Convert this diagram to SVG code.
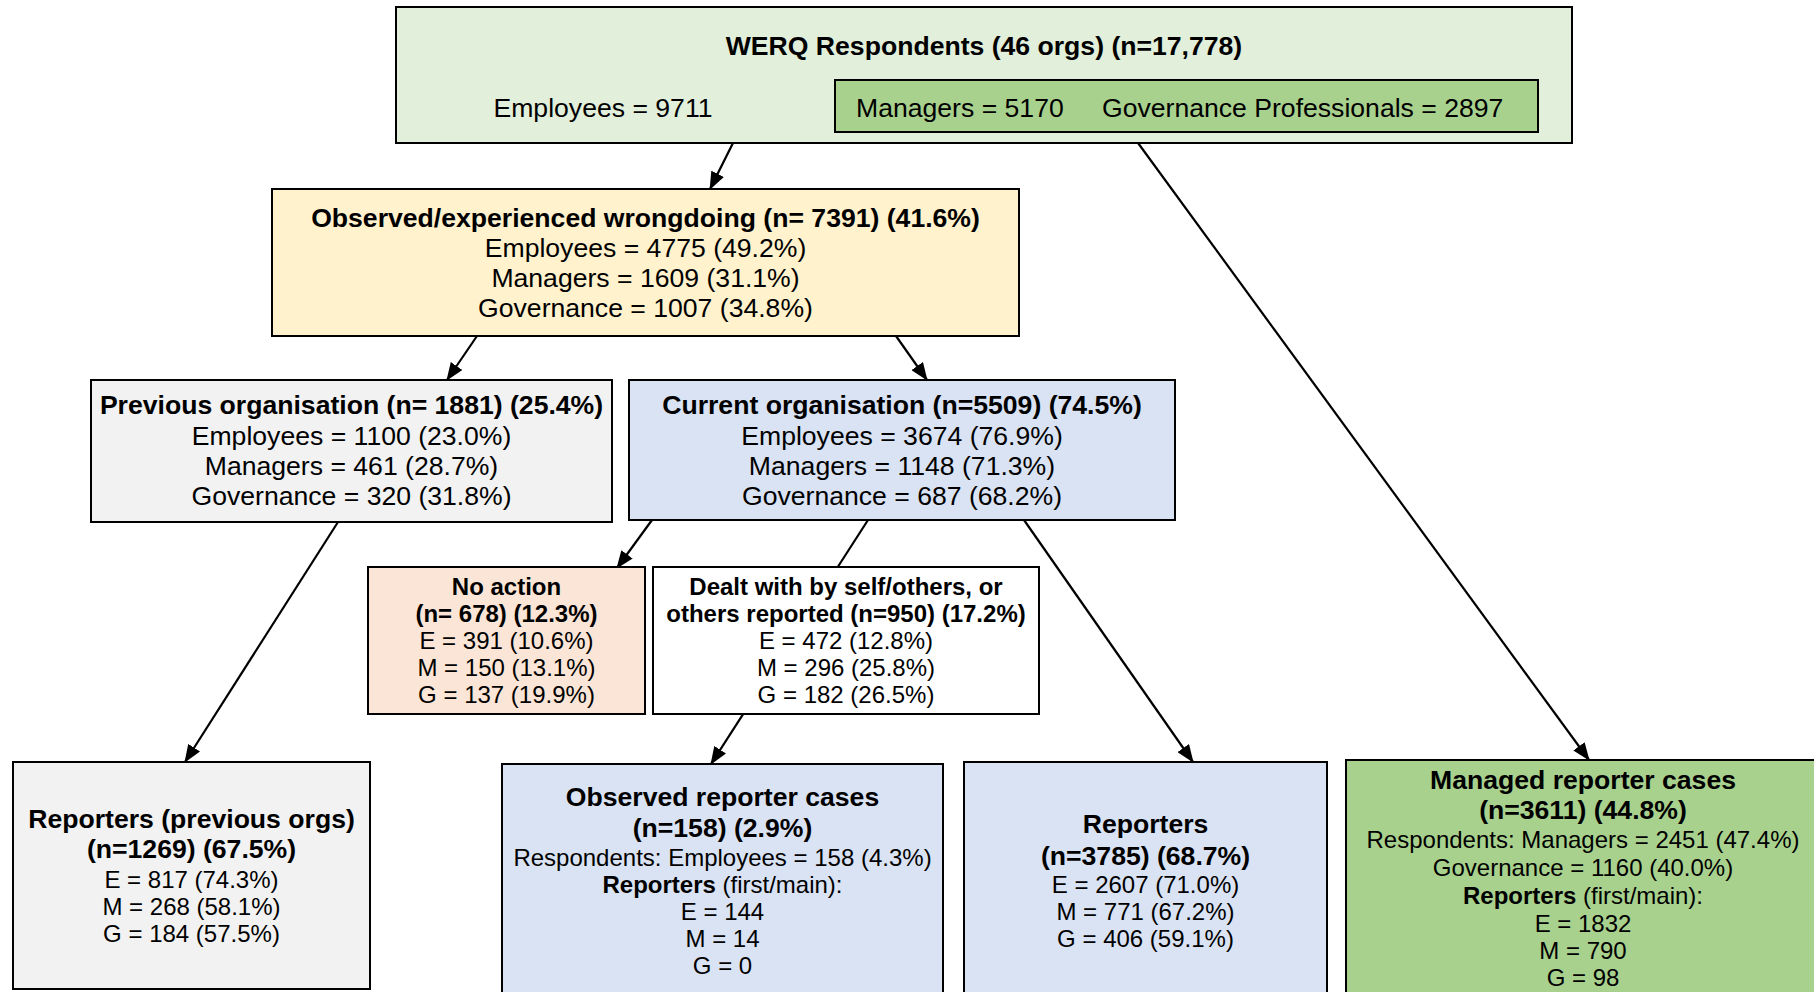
<svg xmlns="http://www.w3.org/2000/svg" width="1814" height="992" viewBox="0 0 1814 992">
<defs>
<marker id="ah" markerUnits="userSpaceOnUse" markerWidth="18" markerHeight="14" refX="17" refY="7" orient="auto">
<path d="M0,0 L18,7 L0,14 Z" fill="#000"/>
</marker>
<style>
.box{stroke:#000;stroke-width:2}
.t{font-family:"Liberation Sans",Arial,sans-serif;fill:#000;text-anchor:middle}
.b{font-weight:bold}
.f26{font-size:26.6px}
.f24{font-size:24px}
.c{stroke:#000;stroke-width:2.2;fill:none;marker-end:url(#ah)}
</style>
</defs>
<rect width="1814" height="992" fill="#fff"/>
<g id="connectors">
<line class="c" x1="733" y1="143" x2="710" y2="189"/>
<line class="c" x1="1130" y1="132" x2="1589" y2="760"/>
<line class="c" x1="477" y1="336" x2="447" y2="380"/>
<line class="c" x1="896" y1="336" x2="927" y2="380"/>
<line class="c" x1="338" y1="522" x2="185" y2="762"/>
<line class="c" x1="652" y1="520" x2="617" y2="568"/>
<line class="c" x1="868" y1="520" x2="711" y2="764"/>
<line class="c" x1="1024" y1="520" x2="1193" y2="762"/>
</g>
<g id="n-top">
<rect class="box" x="396" y="7" width="1176" height="136" fill="#E2EFDA"/>
<text class="t b f26" x="984" y="55">WERQ Respondents (46 orgs) (n=17,778)</text>
<text class="t f26" x="603" y="117">Employees = 9711</text>
</g>
<g id="n-mgr-gov">
<rect class="box" x="835" y="80" width="703" height="52" fill="#A9D18E"/>
<text class="t f26" x="856" y="117" style="text-anchor:start">Managers = 5170</text>
<text class="t f26" x="1102" y="117" style="text-anchor:start">Governance Professionals = 2897</text>
</g>
<g id="n-observed">
<rect class="box" x="272" y="189" width="747" height="147" fill="#FFF2CC"/>
<text class="t b f26" x="645.5" y="227">Observed/experienced wrongdoing (n= 7391) (41.6%)</text>
<text class="t f26" x="645.5" y="257">Employees = 4775 (49.2%)</text>
<text class="t f26" x="645.5" y="287">Managers = 1609 (31.1%)</text>
<text class="t f26" x="645.5" y="317">Governance = 1007 (34.8%)</text>
</g>
<g id="n-previous">
<rect class="box" x="91" y="380" width="521" height="142" fill="#F2F2F2"/>
<text class="t b f26" x="351.5" y="414">Previous organisation (n= 1881) (25.4%)</text>
<text class="t f26" x="351.5" y="445">Employees = 1100 (23.0%)</text>
<text class="t f26" x="351.5" y="475">Managers = 461 (28.7%)</text>
<text class="t f26" x="351.5" y="505">Governance = 320 (31.8%)</text>
</g>
<g id="n-current">
<rect class="box" x="629" y="380" width="546" height="140" fill="#DAE3F3"/>
<text class="t b f26" x="902" y="414">Current organisation (n=5509) (74.5%)</text>
<text class="t f26" x="902" y="445">Employees = 3674 (76.9%)</text>
<text class="t f26" x="902" y="475">Managers = 1148 (71.3%)</text>
<text class="t f26" x="902" y="505">Governance = 687 (68.2%)</text>
</g>
<g id="n-noaction">
<rect class="box" x="368" y="567" width="277" height="147" fill="#FBE5D6"/>
<text class="t b f24" x="506.5" y="595">No action</text>
<text class="t b f24" x="506.5" y="622">(n= 678) (12.3%)</text>
<text class="t f24" x="506.5" y="649">E = 391 (10.6%)</text>
<text class="t f24" x="506.5" y="676">M = 150 (13.1%)</text>
<text class="t f24" x="506.5" y="703">G = 137 (19.9%)</text>
</g>
<g id="n-dealt">
<rect class="box" x="653" y="567" width="386" height="147" fill="#FFFFFF"/>
<text class="t b f24" x="846" y="595">Dealt with by self/others, or</text>
<text class="t b f24" x="846" y="622">others reported (n=950) (17.2%)</text>
<text class="t f24" x="846" y="649">E = 472 (12.8%)</text>
<text class="t f24" x="846" y="676">M = 296 (25.8%)</text>
<text class="t f24" x="846" y="703">G = 182 (26.5%)</text>
</g>
<g id="n-rep-prev">
<rect class="box" x="13" y="762" width="357" height="227" fill="#F2F2F2"/>
<text class="t b f26" x="191.5" y="828">Reporters (previous orgs)</text>
<text class="t b f26" x="191.5" y="858">(n=1269) (67.5%)</text>
<text class="t f24" x="191.5" y="888">E = 817 (74.3%)</text>
<text class="t f24" x="191.5" y="915">M = 268 (58.1%)</text>
<text class="t f24" x="191.5" y="942">G = 184 (57.5%)</text>
</g>
<g id="n-obs-rep">
<rect class="box" x="502" y="764" width="441" height="236" fill="#DAE3F3"/>
<text class="t b f26" x="722.5" y="806">Observed reporter cases</text>
<text class="t b f26" x="722.5" y="837">(n=158) (2.9%)</text>
<text class="t f24" x="722.5" y="866">Respondents: Employees = 158 (4.3%)</text>
<text class="t f24" x="722.5" y="893"><tspan class="b">Reporters</tspan> (first/main):</text>
<text class="t f24" x="722.5" y="920">E = 144</text>
<text class="t f24" x="722.5" y="947">M = 14</text>
<text class="t f24" x="722.5" y="974">G = 0</text>
</g>
<g id="n-reporters">
<rect class="box" x="964" y="762" width="363" height="238" fill="#DAE3F3"/>
<text class="t b f26" x="1145.5" y="833">Reporters</text>
<text class="t b f26" x="1145.5" y="865">(n=3785) (68.7%)</text>
<text class="t f24" x="1145.5" y="893">E = 2607 (71.0%)</text>
<text class="t f24" x="1145.5" y="920">M = 771 (67.2%)</text>
<text class="t f24" x="1145.5" y="947">G = 406 (59.1%)</text>
</g>
<g id="n-managed">
<rect class="box" x="1346" y="760" width="476" height="240" fill="#A9D18E"/>
<text class="t b f26" x="1583" y="789">Managed reporter cases</text>
<text class="t b f26" x="1583" y="819">(n=3611) (44.8%)</text>
<text class="t f24" x="1583" y="848">Respondents: Managers = 2451 (47.4%)</text>
<text class="t f24" x="1583" y="876">Governance = 1160 (40.0%)</text>
<text class="t f24" x="1583" y="904"><tspan class="b">Reporters</tspan> (first/main):</text>
<text class="t f24" x="1583" y="932">E = 1832</text>
<text class="t f24" x="1583" y="959">M = 790</text>
<text class="t f24" x="1583" y="986">G = 98</text>
</g>
</svg>
